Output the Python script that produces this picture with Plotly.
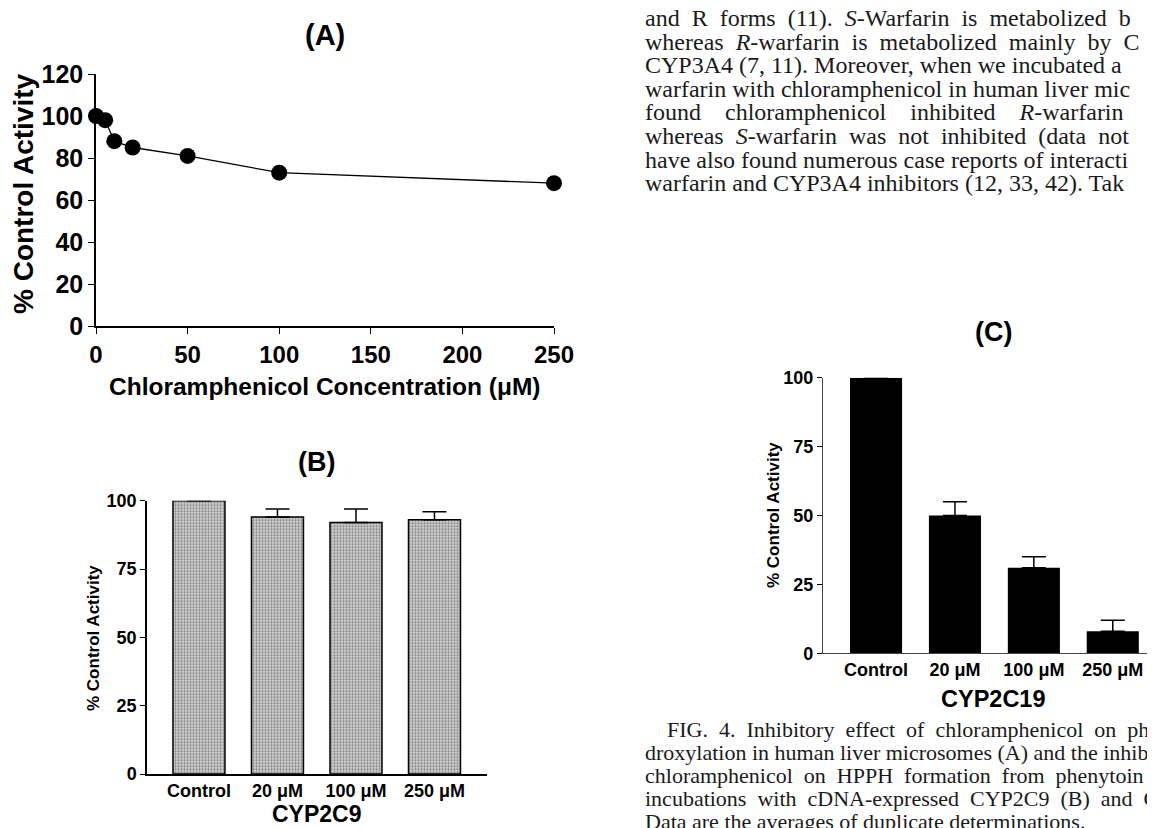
import plotly.graph_objects as go

# ---------------- data ----------------
a_conc = [0, 5, 10, 20, 50, 100, 250]
a_activity = [100, 98, 88, 85, 81, 73, 68]
a_xticks = [0, 50, 100, 150, 200, 250]
a_yticks = [0, 20, 40, 60, 80, 100, 120]

bar_categories = ["Control", "20 \u03bcM", "100 \u03bcM", "250 \u03bcM"]
b_values = [100, 94, 92, 93]
b_err = [0, 3, 5, 3]
c_values = [100, 50, 31, 8]
c_err = [0, 5, 4, 4]
bar_yticks = [0, 25, 50, 75, 100]

text_lines = [
    "and R forms (11). <i>S</i>-Warfarin is metabolized b",
    "whereas <i>R</i>-warfarin is metabolized mainly by C",
    "CYP3A4 (7, 11). Moreover, when we incubated a",
    "warfarin with chloramphenicol in human liver mic",
    "found chloramphenicol inhibited <i>R</i>-warfarin",
    "whereas <i>S</i>-warfarin was not inhibited (data not",
    "have also found numerous case reports of interacti",
    "warfarin and CYP3A4 inhibitors (12, 33, 42). Tak",
]
# extra no-break spaces per word gap (justified lines)
text_spread = [1, 1, 0, 0, 3, 1, 0, 0]
caption_lines = [
    "FIG. 4. Inhibitory effect of chloramphenicol on ph",
    "droxylation in human liver microsomes (A) and the inhib",
    "chloramphenicol on HPPH formation from phenytoin",
    "incubations with cDNA-expressed CYP2C9 (B) and C",
    "Data are the averages of duplicate determinations.",
]
caption_spread = [1, 0, 1, 1, 0]

# page offset (browser body margin) compensation
OFF = 8
W, H = 1155, 828
FW, FH = W - OFF, H - OFF


def fx(px):
    return (px - OFF) / FW


def fy(py):
    return 1 - (py - OFF) / FH


def spread(line, n):
    return line.replace(" ", " " + "\u00a0" * n) if n else line


SANS = "Liberation Sans, Arial, sans-serif"
SERIF = "Liberation Serif, Times New Roman, serif"

fig = go.Figure()

# Panel A
fig.add_trace(go.Scatter(
    x=a_conc, y=a_activity, mode="lines+markers",
    line=dict(color="black", width=1.3),
    marker=dict(color="black", size=16),
    cliponaxis=False, xaxis="x", yaxis="y", showlegend=False,
))

# Panel B
fig.add_trace(go.Bar(
    x=bar_categories, y=b_values, width=0.662,
    marker=dict(color="#bcbcbc", line=dict(color="black", width=1.5),
                pattern=dict(shape=".", fgcolor="#7a7a7a", bgcolor="#d2d2d2",
                             size=3, solidity=0.4)),
    error_y=dict(type="data", array=b_err, arrayminus=[0] * len(b_err),
                 symmetric=False, color="black", thickness=1.5, width=12),
    cliponaxis=False, xaxis="x2", yaxis="y2", showlegend=False,
))

# Panel C
fig.add_trace(go.Bar(
    x=bar_categories, y=c_values, width=0.66,
    marker=dict(color="black", line=dict(color="black", width=0)),
    error_y=dict(type="data", array=c_err, arrayminus=[0] * len(c_err),
                 symmetric=False, color="black", thickness=1.5, width=12),
    cliponaxis=False, xaxis="x3", yaxis="y3", showlegend=False,
))

axis_common = dict(showgrid=False, zeroline=False, showline=True,
                   linecolor="black", ticks="outside", tickcolor="black",
                   fixedrange=True, automargin=False)


def tf(size):
    return dict(family=SANS, size=size, color="black", weight="bold")


fig.update_layout(
    template="none",
    width=FW, height=FH,
    margin=dict(l=0, r=0, t=0, b=0, pad=0, autoexpand=False),
    paper_bgcolor="white", plot_bgcolor="white",
    xaxis=dict(axis_common, domain=[fx(96), fx(554)], range=[0, 250],
               tickvals=a_xticks, linewidth=1.5, ticklen=6,
               tickfont=tf(24), anchor="y"),
    yaxis=dict(axis_common, domain=[fy(326), fy(74)], range=[0, 120],
               tickvals=a_yticks, linewidth=1.5, ticklen=6,
               tickfont=tf(25), anchor="x"),
    xaxis2=dict(axis_common, domain=[fx(147), fx(487)], range=[-0.662, 3.669],
                ticks="", linewidth=1.5, type="category",
                tickfont=tf(18), anchor="y2"),
    yaxis2=dict(axis_common, domain=[fy(774), fy(500.7)], range=[0, 100],
                tickvals=bar_yticks, linewidth=1.5, ticklen=5,
                tickfont=tf(18), anchor="x2"),
    xaxis3=dict(axis_common, domain=[fx(823), 1.0], range=[-0.672, 3.535],
                ticks="", linewidth=1.2, linecolor="#444", type="category",
                tickfont=tf(18), anchor="y3"),
    yaxis3=dict(axis_common, domain=[fy(653.3), fy(377.7)], range=[0, 100],
                tickvals=bar_yticks, linewidth=1.2, linecolor="#444", ticklen=5,
                tickfont=tf(18), anchor="x3"),
)

ann = []


def label(text, x, y, size, angle=0):
    ann.append(dict(text=f"<b>{text}</b>", x=fx(x), y=fy(y), xref="paper",
                    yref="paper", showarrow=False, textangle=angle,
                    xanchor="center", yanchor="middle",
                    font=dict(family=SANS, size=size, color="black")))


# panel titles
label("(A)", 325, 35, 29)
label("(B)", 317, 462, 27)
label("(C)", 993, 332, 27)
# axis titles
label("% Control Activity", 24, 194, 28, angle=-90)
label("Chloramphenicol Concentration (\u03bcM)", 325, 386, 24.5)
label("% Control Activity", 93, 638, 17, angle=-90)
label("CYP2C9", 317, 814, 23)
label("% Control Activity", 773, 515, 17, angle=-90)
label("CYP2C19", 993, 699, 23.5)

# body text
for i, line in enumerate(text_lines):
    ann.append(dict(text=spread(line, text_spread[i]), x=fx(643),
                    y=fy(18 + i * 23.6), xref="paper", yref="paper",
                    showarrow=False, xanchor="left", yanchor="middle",
                    font=dict(family=SERIF, size=24, color="#1a1a1a")))
for i, line in enumerate(caption_lines):
    x0 = 665 if i == 0 else 643
    ann.append(dict(text=spread(line, caption_spread[i]), x=fx(x0),
                    y=fy(729 + i * 23.2), xref="paper", yref="paper",
                    showarrow=False, xanchor="left", yanchor="middle",
                    font=dict(family=SERIF, size=22, color="#1a1a1a")))

fig.update_layout(annotations=ann)

fig.write_html("out.html")
